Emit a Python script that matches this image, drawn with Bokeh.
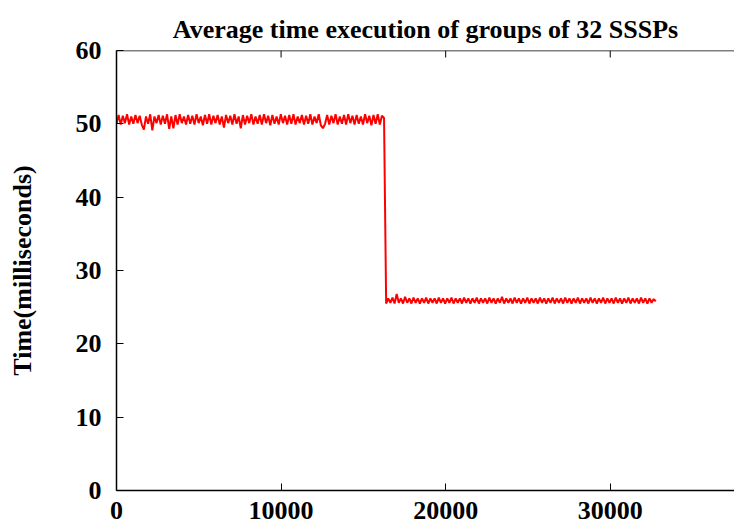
from bokeh.plotting import figure
from bokeh.models import FixedTicker, Range1d, Span
from bokeh.embed import file_html
from bokeh.resources import INLINE

step = 128

# First regime (~50.6 ms)
times_a = [
    50.0, 51.2, 49.9, 51.1, 50.1, 51.3, 49.9, 51.0, 50.0, 51.2,
    50.1, 51.1, 49.9, 49.2, 51.0, 50.0, 51.3, 49.1, 51.0, 50.1,
    51.2, 49.9, 51.1, 50.0, 51.3, 49.3, 51.0, 49.4, 51.2, 49.9,
    51.3, 50.1, 51.0, 49.9, 51.2, 50.0, 51.1, 49.9, 51.3, 50.1,
    51.0, 49.8, 51.2, 50.0, 51.3, 49.9, 51.1, 50.1, 51.2, 49.9,
    51.0, 49.5, 51.2, 50.1, 51.1, 49.9, 51.3, 50.0, 51.0, 49.4,
    51.2, 49.9, 51.1, 50.1, 51.3, 49.9, 51.0, 50.0, 51.2, 49.9,
    51.3, 50.1, 51.1, 49.8, 51.2, 50.0, 51.0, 49.9, 51.3, 50.1,
    51.1, 49.9, 51.2, 50.0, 51.3, 49.9, 51.0, 50.1, 51.2, 49.9,
    51.1, 50.0, 51.3, 49.9, 51.0, 50.1, 51.3, 49.8, 49.4, 50.0,
    51.2, 49.9, 51.1, 50.1, 51.3, 49.9, 51.0, 50.0, 51.2, 49.9,
    51.3, 50.1, 51.1, 49.9, 51.2, 50.0, 51.0, 49.9, 51.3, 50.1,
    51.1, 49.8, 51.2, 50.0, 51.3, 49.9, 51.1, 50.8,
]

# Second regime (~25.9 ms)
times_b = [
    25.5, 26.2, 25.6, 26.3, 25.5, 26.8, 25.6, 26.2, 25.5, 26.4,
    25.6, 26.2, 25.5, 26.3, 25.6, 26.2, 25.5, 26.2, 25.6, 26.3,
    25.5, 26.2, 25.6, 26.2, 25.5, 26.3, 25.6, 26.2, 25.5, 26.2,
    25.6, 26.3, 25.5, 26.2, 25.6, 26.2, 25.5, 26.3, 25.6, 26.2,
    25.5, 26.2, 25.6, 26.3, 25.5, 26.2, 25.6, 26.2, 25.5, 26.3,
    25.6, 26.2, 25.5, 26.2, 25.6, 26.4, 25.5, 26.2, 25.6, 26.2,
    25.5, 26.3, 25.6, 26.2, 25.5, 26.2, 25.6, 26.3, 25.5, 26.2,
    25.6, 26.2, 25.5, 26.3, 25.6, 26.2, 25.5, 26.2, 25.6, 26.3,
    25.5, 26.2, 25.6, 26.2, 25.5, 26.3, 25.6, 26.2, 25.5, 26.2,
    25.6, 26.3, 25.5, 26.2, 25.6, 26.2, 25.5, 26.3, 25.6, 26.2,
    25.5, 26.2, 25.6, 26.3, 25.5, 26.2, 25.6, 26.2, 25.5, 26.3,
    25.6, 26.2, 25.5, 26.2, 25.6, 26.3, 25.5, 26.2, 25.6, 26.2,
    25.5, 26.3, 25.6, 26.2, 25.5, 26.2, 25.6, 26.1, 25.8,
]

x_ticks = [0, 10000, 20000, 30000]
y_ticks = [0, 10, 20, 30, 40, 50, 60]
y_min, y_max = 0, 60

times = times_a + times_b
xs = [i * step for i in range(len(times))]

FONT = "Liberation Serif"

p = figure(width=734, height=530, output_backend="svg", toolbar_location=None,
           x_range=Range1d(0, 37550), y_range=Range1d(y_min, y_max),
           min_border_left=116, min_border_right=0, min_border_top=50,
           min_border_bottom=40)
p.title.text = "Average time execution of groups of 32 SSSPs"
p.title.text_font = FONT
p.title.text_font_size = "26px"
p.title.text_font_style = "bold"
p.title.text_color = "black"
p.title.align = "center"
p.title.offset = 0
p.title.standoff = 14
p.outline_line_color = None
p.grid.visible = False
p.background_fill_color = "white"
p.border_fill_color = "white"

p.line(xs, times, line_color="#ff0000", line_width=2.0, line_join="bevel")

# top border and mirrored inward ticks
p.add_layout(Span(location=y_max, dimension="width", line_color="black", line_width=1.5))
tick_len = (y_max - y_min) * 7 / 440
p.segment(x0=x_ticks[1:], y0=[y_max] * 3, x1=x_ticks[1:], y1=[y_max - tick_len] * 3,
          line_color="black", line_width=1)

for ax in (p.xaxis[0], p.yaxis[0]):
    ax.major_label_text_font = FONT
    ax.major_label_text_font_size = "26px"
    ax.major_label_text_font_style = "bold"
    ax.major_label_text_color = "black"
    ax.axis_line_color = "black"
    ax.axis_line_width = 1.5
    ax.major_tick_in = 7
    ax.major_tick_out = 0
    ax.major_tick_line_color = "black"
    ax.minor_tick_line_color = None

p.xaxis[0].ticker = FixedTicker(ticks=x_ticks)
p.yaxis[0].ticker = FixedTicker(ticks=y_ticks)
p.xaxis[0].major_label_standoff = 11
p.yaxis[0].major_label_standoff = 15

p.yaxis[0].axis_label = "Time(milliseconds)"
p.yaxis[0].axis_label_text_font = FONT
p.yaxis[0].axis_label_text_font_size = "26px"
p.yaxis[0].axis_label_text_font_style = "bold"
p.yaxis[0].axis_label_text_color = "black"
p.yaxis[0].axis_label_standoff = 36

open("out.html", "w").write(file_html(p, INLINE))
